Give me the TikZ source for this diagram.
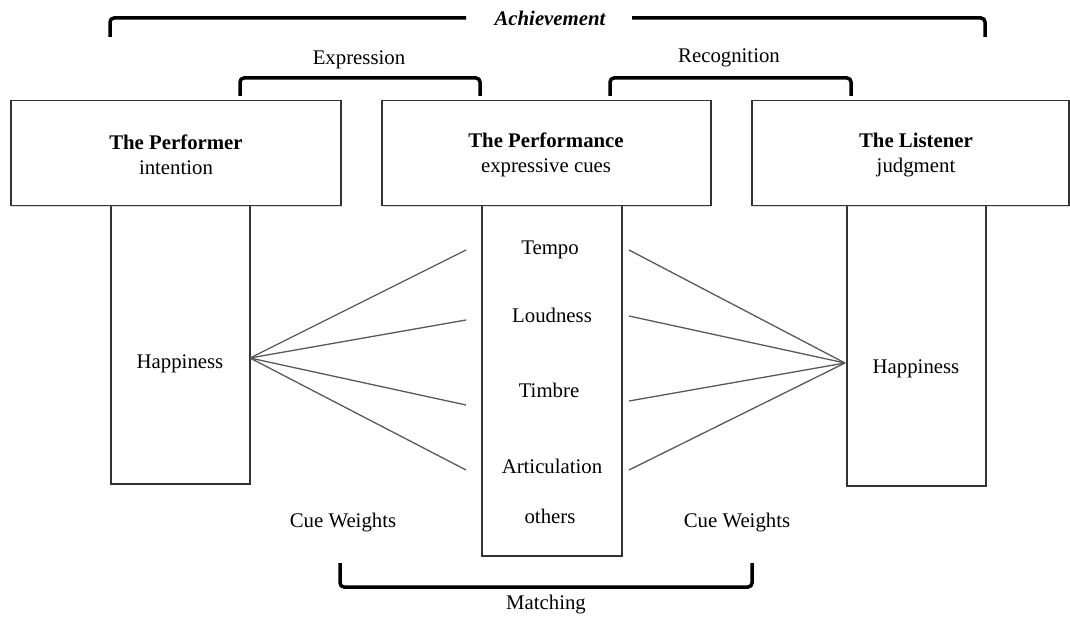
\documentclass[tikz,border=0pt]{standalone}
\usepackage{fontspec}
\setmainfont{Liberation Serif}
\usetikzlibrary{shadows}
\begin{document}
\begin{tikzpicture}[x=1pt,y=-1pt,
  box/.style={draw=black!80,line width=1.5pt,fill=white,inner sep=0pt,
    drop shadow={opacity=0.25,shadow xshift=1.5pt,shadow yshift=-1.5pt}},
  lbl/.style={font=\fontsize{20.8}{25}\selectfont,inner sep=0pt},
  fan/.style={draw=black!65,line width=1.3pt},
  brk/.style={draw=black,line width=3.5pt,rounded corners=4pt}]
\useasboundingbox (0,0) rectangle (1070,617);
% stems
\node[box,minimum width=139pt,minimum height=278pt,anchor=north west] (s1) at (110,205) {};
\node[box,minimum width=140pt,minimum height=350pt,anchor=north west] (s2) at (481,205) {};
\node[box,minimum width=139pt,minimum height=280pt,anchor=north west] (s3) at (846,205) {};
% top boxes
\node[box,minimum width=330pt,minimum height=105pt,anchor=north west] (b1) at (10,100) {};
\node[box,minimum width=329pt,minimum height=105pt,anchor=north west] (b2) at (381,100) {};
\node[box,minimum width=317pt,minimum height=105pt,anchor=north west] (b3) at (751,100) {};
\node[lbl,align=center] (t1) at (176,155) {\textbf{The Performer}\\intention};
\node[lbl,align=center] (t2) at (546,155) {\textbf{The Performance}\\expressive cues};
\node[lbl,align=center] (t3) at (916,155) {\textbf{The Listener}\\judgment};
% inner labels
\node[lbl] (h1) at (180,364) {Happiness};
\node[lbl] (h2) at (916,369) {Happiness};
\node[lbl] (c1) at (550,250) {Tempo};
\node[lbl] (c2) at (552,315) {Loudness};
\node[lbl] (c3) at (549,390) {Timbre};
\node[lbl] (c4) at (552,466) {Articulation};
\node[lbl] (c5) at (550,516) {others};
\node[lbl] (w1) at (343,523) {Cue Weights};
\node[lbl] (w2) at (737,523) {Cue Weights};
% fan coordinates
\coordinate (pl) at (250,358);
\coordinate (pr) at (845,363);
\coordinate (l1) at (466,250);
\coordinate (l2) at (466,320);
\coordinate (l3) at (466,405);
\coordinate (l4) at (466,470);
\coordinate (r1) at (629,250);
\coordinate (r2) at (629,316);
\coordinate (r3) at (629,401);
\coordinate (r4) at (629,470);
\foreach \i in {1,2,3,4} {
  \draw[fan] (pl) -- (l\i);
  \draw[fan] (r\i) -- (pr);
}
% brackets
\node[lbl,font=\fontsize{20.8}{25}\selectfont\bfseries\itshape] (ach) at (550,18) {Achievement};
\draw[brk] (110,37) -- (110,18) -- (466,18);
\draw[brk] (632,18) -- (985,18) -- (985,37);
\node[lbl] (exp) at (359,60) {Expression};
\draw[brk] (240,96) -- (240,78) -- (480,78) -- (480,96);
\node[lbl] (rec) at (729,58) {Recognition};
\draw[brk] (610,96) -- (610,78) -- (851,78) -- (851,96);
\node[lbl] (mat) at (546,605) {Matching};
\draw[brk] (340,563) -- (340,587) -- (752,587) -- (752,563);
\end{tikzpicture}
\end{document}
